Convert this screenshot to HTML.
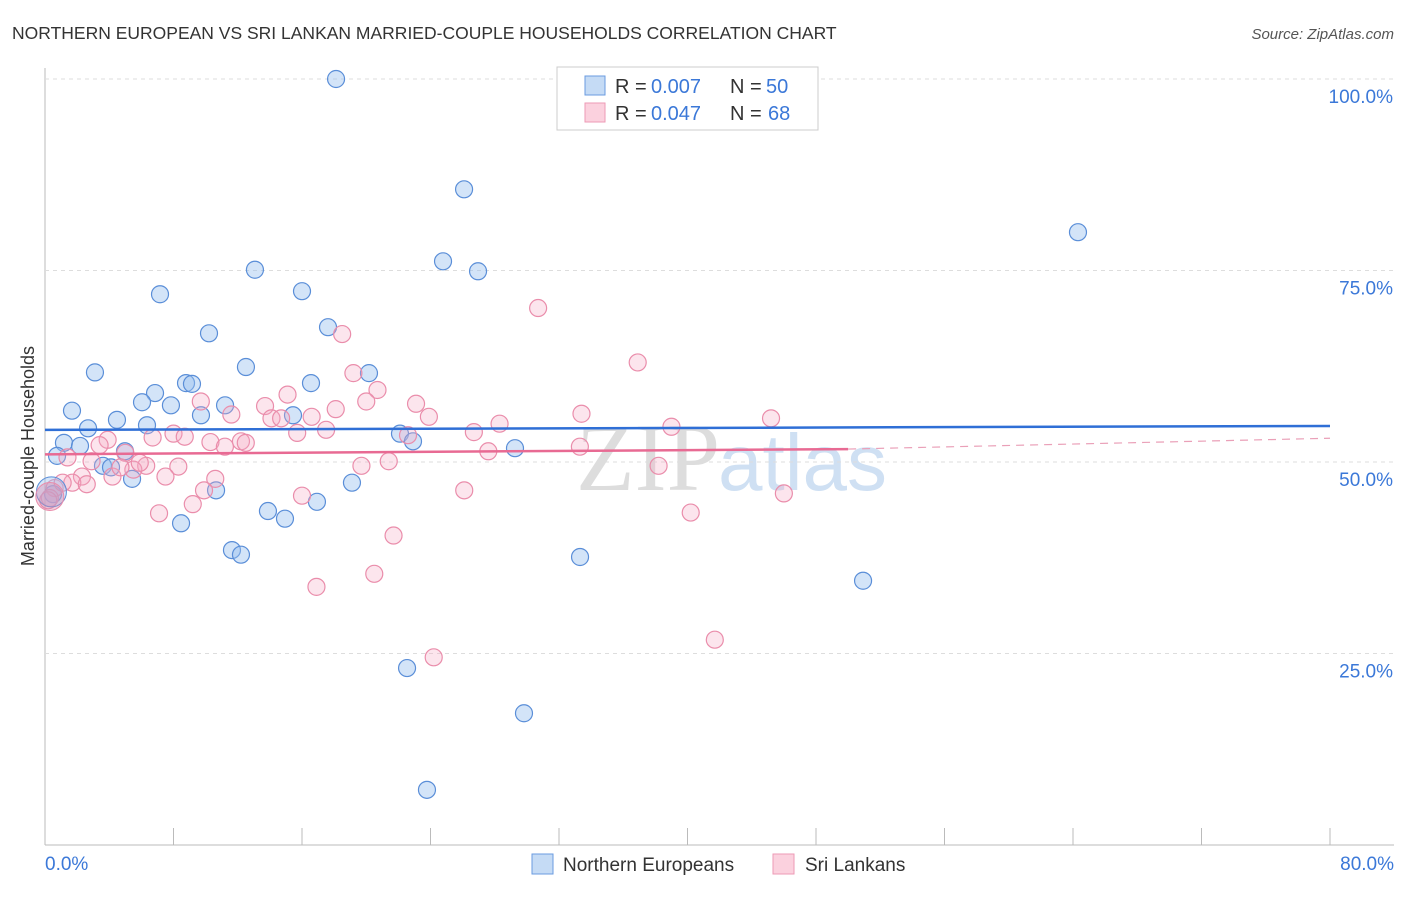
<!DOCTYPE html>
<html><head><meta charset="utf-8"><style>
body{margin:0;background:#fff;font-family:"Liberation Sans",sans-serif;}
</style></head><body>
<svg id="c" width="1406" height="892" xmlns="http://www.w3.org/2000/svg">
<text x="12" y="39" font-size="17.5" fill="#333">NORTHERN EUROPEAN VS SRI LANKAN MARRIED-COUPLE HOUSEHOLDS CORRELATION CHART</text>
<text x="1394" y="39" font-size="15" fill="#555" font-style="italic" text-anchor="end">Source: ZipAtlas.com</text>
<text x="720" y="490" font-size="96" font-family="Liberation Serif,serif" fill="#ddd" text-anchor="end">ZIP</text>
<text x="718" y="490" font-size="80" fill="#cfe0f3">atlas</text>
<g id="grid"></g><g id="marks"></g>
<text transform="translate(34,456) rotate(-90)" font-size="18" fill="#333" text-anchor="middle">Married-couple Households</text>
<g>
<rect x="557" y="67" width="261" height="63" fill="#fff" stroke="#ccc"/>
<rect x="585" y="76" width="20" height="19" fill="#c5dbf5" stroke="#6a9be0"/>
<rect x="585" y="103" width="20" height="19" fill="#fbd1de" stroke="#ee9ab5"/>
<text x="615" y="93" font-size="20" fill="#333">R = </text><text x="651" y="93" font-size="20" fill="#3b78d8">0.007</text>
<text x="730" y="93" font-size="20" fill="#333">N = </text><text x="766" y="93" font-size="20" fill="#3b78d8">50</text>
<text x="615" y="120" font-size="20" fill="#333">R = </text><text x="651" y="120" font-size="20" fill="#3b78d8">0.047</text>
<text x="730" y="120" font-size="20" fill="#333">N = </text><text x="768" y="120" font-size="20" fill="#3b78d8">68</text>
</g>
<g>
<rect x="532" y="854" width="21" height="20" fill="#c5dbf5" stroke="#6a9be0"/>
<text x="563" y="871" font-size="19" fill="#333">Northern Europeans</text>
<rect x="773" y="854" width="21" height="20" fill="#fbd1de" stroke="#ee9ab5"/>
<text x="805" y="871" font-size="19" fill="#333">Sri Lankans</text>
</g>
</svg>
<script>
const xTicks=[0,8,16,24,32,40,48,56,64,72,80];
const yTicks=[25,50,75,100];
const blueX=[18.12,26.09,64.31,24.78,26.96,13.07,7.16,16.00,10.21,17.62,12.51,3.11,20.17,8.78,9.15,16.56,6.85,6.04,7.84,11.21,1.68,9.71,15.44,4.48,2.68,6.35,22.10,1.18,2.18,22.91,29.26,0.75,4.98,3.61,4.11,5.42,19.11,10.65,0.50,16.93,13.88,14.94,8.47,11.64,12.20,33.31,50.93,22.54,29.82,23.78];
const blueY=[100.0,85.6,80.0,76.2,74.9,75.1,71.9,72.3,66.8,67.6,62.4,61.7,61.6,60.3,60.2,60.3,59.0,57.8,57.4,57.4,56.7,56.1,56.1,55.5,54.4,54.8,53.7,52.5,52.1,52.7,51.8,50.8,51.4,49.5,49.3,47.8,47.3,46.3,45.8,44.8,43.6,42.6,42.0,38.5,37.9,37.6,34.5,23.1,17.2,7.2];
const pinkX=[30.7,18.5,36.9,19.2,20.7,15.1,20.0,9.7,13.7,23.1,18.1,11.6,23.9,14.1,16.6,14.7,28.3,33.4,45.2,39.0,26.7,17.5,15.7,6.7,8.0,8.7,3.9,10.3,12.2,12.5,22.6,11.2,33.3,27.6,8.3,3.4,5.0,21.4,19.7,1.4,6.3,5.5,2.9,38.2,2.3,7.5,4.2,10.6,1.7,2.6,0.6,9.9,26.1,46.0,16.0,9.2,7.1,40.2,21.7,20.5,16.9,24.2,41.7,0.3,0.2,1.1,4.7,5.9];
const pinkY=[70.1,66.7,63.0,61.6,59.4,58.8,57.9,57.9,57.3,57.6,56.9,56.2,55.9,55.7,55.9,55.7,55.0,56.3,55.7,54.6,53.9,54.2,53.8,53.2,53.7,53.3,52.9,52.6,52.7,52.5,53.5,52.0,52.0,51.4,49.4,52.2,51.2,50.1,49.5,50.6,49.5,49.0,50.1,49.5,48.1,48.1,48.1,47.8,47.3,47.1,46.6,46.3,46.3,45.9,45.6,44.5,43.3,43.4,40.4,35.4,33.7,24.5,26.8,45.3,45.0,47.3,49.3,49.9];
const regInt=[54.2,51.0];
const regEnd=[54.7,52.1];
const pinkSolidEnd=50;
const NS='http://www.w3.org/2000/svg';
const X0=45,X1=1330,Y0=845,Y100=79;
const sx=v=>X0+(v/80)*(X1-X0);
const sy=v=>Y0-(v/100)*(Y0-Y100);
const grid=document.getElementById('grid'),marks=document.getElementById('marks');
function mk(tag,at,par){const e=document.createElementNS(NS,tag);for(const k in at)e.setAttribute(k,at[k]);par.appendChild(e);return e;}
let ax=mk('line',{x1:X0,y1:68,x2:X0,y2:Y0,stroke:'#bbb'},grid);


let bx=mk('line',{x1:X0,y1:Y0,x2:1394,y2:Y0,stroke:'#bbb'},grid);


yTicks.forEach(t=>{
 let g=mk('line',{x1:X0,y1:sy(t),x2:1394,y2:sy(t),stroke:'#ddd','stroke-dasharray':'4,4'},grid);
 
 
 let l=mk('text',{x:1393,y:sy(t)+24,'font-size':19,fill:'#3b78d8','text-anchor':'end'},grid);
 l.textContent=t.toFixed(1)+'%';
 
 
});
xTicks.forEach(t=>{
 let k=mk('line',{x1:sx(t),y1:828,x2:sx(t),y2:Y0,stroke:'#bbb'},grid);
 
 
});
[[0,'0.0%','start',45],[80,'80.0%','end',1394]].forEach(([t,s,a,x])=>{
 let l=mk('text',{x:x,y:870,'font-size':19,fill:'#3b78d8','text-anchor':a},grid);
 l.textContent=s;
 
 
});
function dots(xs,ys,fill,stroke,name){
 xs.forEach((x,i)=>{
  let c=mk('circle',{cx:sx(x),cy:sy(ys[i]),r:8.5,fill:fill,stroke:stroke,'stroke-width':1.2},marks);
  
  
 });
}
dots(blueX,blueY,'rgba(150,190,238,0.42)','#5a8ed8','northern-european');
dots(pinkX,pinkY,'rgba(245,170,195,0.3)','#ea8dab','sri-lankan');
let b1=mk('circle',{cx:sx(0.4),cy:sy(46.1),r:15,fill:'rgba(150,190,238,0.4)',stroke:'#5a8ed8'},marks);


let b2=mk('circle',{cx:sx(0.3),cy:sy(45.5),r:14,fill:'rgba(220,140,175,0.4)',stroke:'#ea8dab'},marks);


let r1=mk('line',{x1:sx(0),y1:sy(regInt[0]),x2:sx(80),y2:sy(regEnd[0]),stroke:'#2f6fd6','stroke-width':2.5},marks);


const pe=regInt[1]+(regEnd[1]-regInt[1])*pinkSolidEnd/80;
let r2=mk('line',{x1:sx(0),y1:sy(regInt[1]),x2:sx(pinkSolidEnd),y2:sy(pe),stroke:'#e86a93','stroke-width':2.5},marks);


let r3=mk('line',{x1:sx(pinkSolidEnd),y1:sy(pe),x2:sx(80),y2:sy(regEnd[1]+1),stroke:'#eaa0b8','stroke-width':1.2,'stroke-dasharray':'8,6'},marks);


</script>
</body></html>
